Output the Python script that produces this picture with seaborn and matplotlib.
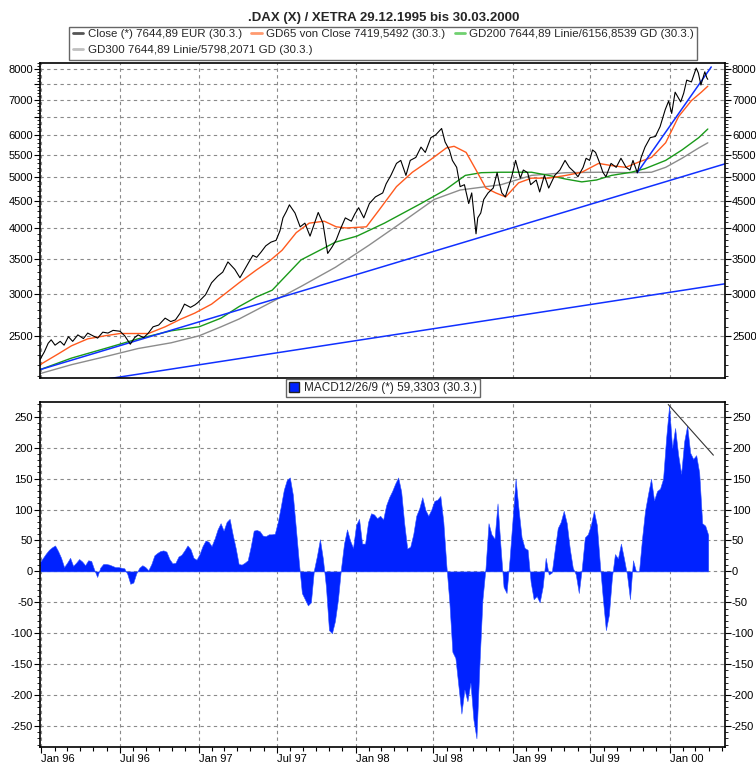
import numpy as np
import pandas as pd
import seaborn as sns
import matplotlib.pyplot as plt
import matplotlib.dates as mdates
from matplotlib.ticker import FixedLocator, FuncFormatter
from matplotlib.lines import Line2D
from matplotlib.patches import Rectangle, Patch

#%% data
close_dates = [
    '1995-12-29', '1996-01-08', '1996-01-17', '1996-01-24', '1996-02-02', '1996-02-14', '1996-02-23',
    '1996-03-04', '1996-03-14', '1996-03-26', '1996-04-08', '1996-04-18', '1996-04-30', '1996-05-11',
    '1996-05-23', '1996-06-04', '1996-06-16', '1996-07-02', '1996-07-13', '1996-07-20', '1996-07-26',
    '1996-08-05', '1996-08-13', '1996-08-26', '1996-09-06', '1996-09-17', '1996-09-30', '1996-10-15',
    '1996-10-28', '1996-11-08', '1996-11-19', '1996-11-29', '1996-12-13', '1996-12-23', '1996-12-30',
    '1997-01-17', '1997-01-31', '1997-02-14', '1997-02-26', '1997-03-10', '1997-03-26', '1997-04-07',
    '1997-04-18', '1997-04-28', '1997-05-07', '1997-05-16', '1997-05-26', '1997-06-06', '1997-06-18',
    '1997-06-30', '1997-07-09', '1997-07-16', '1997-07-24', '1997-07-31', '1997-08-13', '1997-08-25',
    '1997-09-05', '1997-09-17', '1997-10-06', '1997-10-17', '1997-10-28', '1997-11-07', '1997-11-17',
    '1997-11-26', '1997-12-08', '1997-12-22', '1997-12-30', '1998-01-08', '1998-01-20', '1998-02-02',
    '1998-02-16', '1998-03-05', '1998-03-13', '1998-03-24', '1998-04-06', '1998-04-16', '1998-04-28',
    '1998-05-08', '1998-05-21', '1998-06-02', '1998-06-12', '1998-06-25', '1998-07-06', '1998-07-20',
    '1998-07-28', '1998-08-07', '1998-08-14', '1998-08-24', '1998-09-01', '1998-09-11', '1998-09-21',
    '1998-09-28', '1998-10-08', '1998-10-12', '1998-10-19', '1998-10-26', '1998-11-05', '1998-11-17',
    '1998-11-26', '1998-12-01', '1998-12-07', '1998-12-15', '1998-12-30', '1999-01-08', '1999-01-19',
    '1999-01-26', '1999-02-05', '1999-02-12', '1999-02-25', '1999-03-05', '1999-03-16', '1999-03-26',
    '1999-04-09', '1999-04-21', '1999-05-03', '1999-05-13', '1999-05-25', '1999-06-02', '1999-06-14',
    '1999-06-21', '1999-06-29', '1999-07-06', '1999-07-13', '1999-07-23', '1999-07-30', '1999-08-06',
    '1999-08-18', '1999-08-30', '1999-09-10', '1999-09-22', '1999-10-01', '1999-10-08', '1999-10-18',
    '1999-10-27', '1999-11-05', '1999-11-17', '1999-11-29', '1999-12-10', '1999-12-22', '1999-12-30',
    '2000-01-06', '2000-01-14', '2000-01-27', '2000-02-03', '2000-02-10', '2000-02-21', '2000-03-03',
    '2000-03-08', '2000-03-14', '2000-03-23', '2000-03-28', '2000-03-30']
close_vals = [
    2254, 2330, 2420, 2457, 2400, 2440, 2400,
    2490, 2440, 2510, 2470, 2530, 2500, 2475,
    2540, 2530, 2560, 2550, 2500, 2450, 2410,
    2480, 2510, 2480, 2530, 2600, 2620, 2700,
    2660, 2680, 2760, 2870, 2830, 2860, 2889,
    2990, 3150, 3240, 3300, 3450, 3340, 3220,
    3340, 3450, 3550, 3520, 3600, 3700, 3760,
    3790, 3950, 4180, 4300, 4425, 4270, 4020,
    4085, 3860, 4280, 4085, 3580, 3680, 3800,
    3970, 4180, 4120, 4250, 4370, 4180, 4450,
    4580, 4660, 4850, 5030, 5300, 5370, 5030,
    5370, 5440, 5690, 5560, 5930, 6000, 6171,
    5820, 5620, 5370, 5210, 4790, 4830, 4450,
    4660, 3900, 4180, 4270, 4530, 4660, 4760,
    5090, 4870, 4660, 4580, 5002, 5370, 4970,
    5150, 5090, 4830, 4930, 4680, 5030, 4760,
    5030, 5150, 5370, 5210, 5100, 5000, 5210,
    5420, 5370, 5620, 5560, 5300, 5100, 5000,
    5300, 5210, 5420, 5210, 5150, 5370, 5090,
    5440, 5690, 5930, 5960, 6220, 6700, 6958,
    6590, 7230, 6930, 7200, 7620, 7560, 8030,
    7860, 7460, 7900, 7690, 7645]

gd65_dates = [
    '1995-12-29', '1996-02-10', '1996-03-11', '1996-04-18', '1996-05-28', '1996-07-02', '1996-09-06',
    '1996-10-15', '1996-11-21', '1996-12-23', '1997-01-31', '1997-03-05', '1997-04-05', '1997-05-15',
    '1997-06-14', '1997-07-14', '1997-08-16', '1997-09-15', '1997-10-20', '1997-11-17', '1997-12-10',
    '1998-01-26', '1998-02-25', '1998-04-06', '1998-05-13', '1998-06-22', '1998-07-31', '1998-08-18',
    '1998-09-15', '1998-10-08', '1998-10-31', '1998-11-23', '1998-12-16', '1999-01-15', '1999-02-14',
    '1999-03-26', '1999-05-05', '1999-06-11', '1999-07-20', '1999-08-19', '1999-09-21', '1999-10-21',
    '1999-11-20', '1999-12-23', '2000-01-22', '2000-02-21', '2000-03-15', '2000-03-30']
gd65_vals = [
    2204, 2312, 2393, 2467, 2500, 2525, 2525,
    2600, 2690, 2760, 2870, 3010, 3150, 3330,
    3460, 3630, 3920, 4085, 4120, 4020, 4000,
    4020, 4330, 4790, 5100, 5370, 5670, 5710,
    5560, 5150, 4760, 4660, 4580, 4870, 4970,
    4970, 5030, 5100, 5300, 5250, 5210, 5330,
    5440, 5800, 6500, 6970, 7230, 7420]

gd200_dates = [
    '1995-12-29', '1996-03-11', '1996-05-28', '1996-08-13', '1996-10-29', '1997-01-02', '1997-02-22',
    '1997-04-05', '1997-05-15', '1997-06-21', '1997-08-27', '1997-11-15', '1998-01-04', '1998-03-09',
    '1998-06-02', '1998-07-28', '1998-09-13', '1998-10-20', '1998-12-05', '1999-02-14', '1999-03-26',
    '1999-05-05', '1999-06-11', '1999-07-15', '1999-08-19', '1999-10-04', '1999-11-05', '1999-12-23',
    '2000-01-30', '2000-03-09', '2000-03-30']
gd200_vals = [
    2157, 2268, 2365, 2467, 2555, 2600, 2700,
    2840, 2960, 3050, 3480, 3760, 3860, 4085,
    4450, 4720, 5030, 5090, 5100, 5100, 5030,
    4950, 4890, 4930, 5030, 5100, 5180, 5370,
    5620, 5930, 6157]

gd300_dates = [
    '1995-12-29', '1996-03-11', '1996-05-28', '1996-08-13', '1996-10-29', '1997-01-02', '1997-02-22',
    '1997-04-05', '1997-06-21', '1997-08-27', '1997-11-15', '1998-02-01', '1998-04-16', '1998-07-03',
    '1998-09-01', '1998-10-06', '1998-12-05', '1999-02-14', '1999-05-05', '1999-07-20', '1999-10-04',
    '1999-11-20', '1999-12-23', '2000-01-30', '2000-03-09', '2000-03-30']
gd300_vals = [
    2120, 2204, 2282, 2365, 2425, 2500, 2600,
    2690, 2900, 3100, 3370, 3710, 4085, 4530,
    4720, 4760, 4830, 5030, 5090, 5100, 5090,
    5100, 5210, 5420, 5670, 5798]

# trend lines (start / end)
trend_a_dates = ['1995-12-29', '2000-05-09']
trend_a_vals = [2157, 5290]
trend_b_dates = ['1995-12-29', '2000-05-09']
trend_b_vals = [1980, 3136]
trend_c_dates = ['1999-10-18', '2000-04-07']
trend_c_vals = [5090, 8070]

# MACD, weekly from 29.12.1995
macd_start = '1995-12-29'
macd_vals = [
    15, 22, 29, 35, 39, 42, 33, 22, 7, 14,
    22, 9, 14, 20, 16, 10, 18, 17, 3, -9,
    6, 12, 12, 11, 9, 7, 7, 6, 5, -4,
    -20, -18, -3, 6, 10, 7, 2, 12, 26, 30,
    33, 34, 32, 20, 13, 14, 24, 27, 34, 42,
    36, 22, 19, 28, 41, 50, 48, 41, 53, 68,
    78, 66, 80, 85, 60, 38, 12, 11, 14, 18,
    40, 66, 67, 65, 58, 57, 60, 60, 61, 80,
    105, 132, 148, 152, 124, 70, 15, -35, -45, -55,
    -50, 2, 25, 52, 20, -25, -95, -100, -80, -45,
    5, 45, 68, 50, 38, 75, 85, 45, 45, 80,
    94, 92, 86, 90, 84, 107, 120, 130, 142, 152,
    129, 78, 37, 40, 60, 90, 102, 120, 100, 90,
    100, 114, 116, 122, 80, 10, -50, -130, -140, -185,
    -230, -191, -210, -180, -240, -270, -150, -45, 5, 78,
    60, 53, 110, 40, -25, -35, 20, 85, 150, 100,
    55, 38, 35, -17, -45, -40, -50, -25, 22, -5,
    -2, 35, 70, 80, 98, 78, 37, 6, -5, -35,
    5, 55, 60, 75, 98, 75, 12, -45, -95, -70,
    -10, 28, 21, 45, 21, -5, -45, 18, 0, 0,
    53, 98, 125, 150, 115, 130, 134, 150, 215, 268,
    200, 232, 189, 158, 210, 236, 192, 182, 188, 160,
    78, 74, 59]
macd_trend_dates = ['1999-12-29', '2000-04-12']
macd_trend_vals = [270, 188]

labels_top = ['Close (*) 7644,89 EUR (30.3.)',
              'GD65 von Close 7419,5492 (30.3.)',
              'GD200 7644,89 Linie/6156,8539 GD (30.3.)',
              'GD300 7644,89 Linie/5798,2071 GD (30.3.)']
label_macd = 'MACD12/26/9 (*) 59,3303 (30.3.)'
title = '.DAX (X) / XETRA 29.12.1995 bis 30.03.2000'

#%% frames
def frame(dates, vals):
    return pd.DataFrame({'Datum': pd.to_datetime(dates), 'Wert': vals})

close_df = frame(close_dates, close_vals)
gd65_df = frame(gd65_dates, gd65_vals)
gd200_df = frame(gd200_dates, gd200_vals)
gd300_df = frame(gd300_dates, gd300_vals)
macd_df = pd.DataFrame({'Datum': pd.date_range(macd_start, periods=len(macd_vals), freq='7D'),
                        'Wert': macd_vals})

#%% plot
sns.set_theme(style='white')
plt.rcParams['font.family'] = ['Liberation Sans', 'DejaVu Sans']
plt.rcParams['font.size'] = 8

W, H = 756, 763
fig = plt.figure(figsize=(W / 100, H / 100), dpi=100)
ax1 = fig.add_axes([40 / W, 1 - 378 / H, 685 / W, 315 / H])
ax2 = fig.add_axes([40 / W, 1 - 747 / H, 685 / W, 345 / H])

c_close, c65, c200, c300, c_tr = '#000000', '#ff5a1e', '#1a9a1a', '#8c8c8c', '#1030ff'
ax1.set_yscale('log')
for df, c in [(gd300_df, c300), (gd200_df, c200), (gd65_df, c65)]:
    sns.lineplot(data=df, x='Datum', y='Wert', ax=ax1, color=c, linewidth=1.0)
for d, v in [(trend_a_dates, trend_a_vals), (trend_b_dates, trend_b_vals), (trend_c_dates, trend_c_vals)]:
    sns.lineplot(data=frame(d, v), x='Datum', y='Wert', ax=ax1, color=c_tr, linewidth=1.1)
sns.lineplot(data=close_df, x='Datum', y='Wert', ax=ax1, color=c_close, linewidth=0.8)

ax2.fill_between(macd_df['Datum'], 0, macd_df['Wert'], color='#0022ff', linewidth=0.4,
                 edgecolor='#3355ff', interpolate=True)
sns.lineplot(data=frame(macd_trend_dates, macd_trend_vals), x='Datum', y='Wert', ax=ax2,
             color='#333333', linewidth=0.8)

xmin, xmax = pd.Timestamp('1995-12-29'), pd.Timestamp('2000-05-09')
for ax in (ax1, ax2):
    ax.set_xlim(xmin, xmax)
    ax.set_xlabel('')
    ax.set_ylabel('')
    ax.xaxis.set_major_locator(mdates.MonthLocator(bymonth=[1, 7]))
    ax.xaxis.set_minor_locator(mdates.MonthLocator())
    ax.grid(True, which='major', color='#8a8a8a', linestyle=(0, (3, 3)), linewidth=0.8)
    ax.tick_params(axis='y', which='both', direction='out', left=True, right=True,
                   labelleft=True, labelright=True, colors='black', labelsize=8, pad=1)
    ax.tick_params(axis='y', which='major', length=4, width=0.8)
    ax.tick_params(axis='y', which='minor', length=2, width=0.6)
    for s in ax.spines.values():
        s.set_color('black')
        s.set_linewidth(1.2)

# top panel axes
ax1.set_ylim(2080, 8210)
ax1.yaxis.set_major_locator(FixedLocator(list(range(2500, 8001, 500))))
ax1.yaxis.set_major_formatter(FuncFormatter(lambda v, p: '' if int(round(v)) in (6500, 7500) else f'{int(round(v))}'))
ax1.yaxis.set_minor_locator(FixedLocator(list(range(2100, 8201, 100))))
ax1.yaxis.set_minor_formatter(FuncFormatter(lambda v, p: ''))
ax1.tick_params(axis='x', which='both', bottom=False, labelbottom=False)

# bottom panel axes
ax2.set_ylim(-284, 274)
ax2.yaxis.set_major_locator(FixedLocator(list(range(-250, 251, 50))))
ax2.yaxis.set_minor_locator(FixedLocator(list(range(-280, 271, 10))))
ax2.yaxis.set_major_formatter(FuncFormatter(lambda v, p: f'{int(round(v))}'))
ax2.xaxis.set_major_formatter(mdates.DateFormatter('%b %y'))
ax2.tick_params(axis='x', which='both', direction='out', bottom=True, colors='black', labelsize=8, pad=1)
ax2.tick_params(axis='x', which='major', length=4, width=0.8)
ax2.tick_params(axis='x', which='minor', length=3, width=0.8)
for lab in ax2.get_xticklabels():
    lab.set_horizontalalignment('left')

# title and legends
fig.text(384 / W, 1 - 18 / H, title, ha='center', va='center', fontsize=9.5, fontweight='bold',
         family=['Liberation Sans Narrow', 'Liberation Sans', 'DejaVu Sans'])

fig.patches.append(Rectangle((69 / W, 1 - 60 / H), 628 / W, 33 / H, transform=fig.transFigure,
                             fill=False, edgecolor='#666666', linewidth=1.0))
hand = [Line2D([], [], color='#555555', lw=2),
        Line2D([], [], color='#ff9a70', lw=2),
        Line2D([], [], color='#70d070', lw=2),
        Line2D([], [], color='#c0c0c0', lw=2)]
leg_kw = dict(loc='upper left', frameon=False, handlelength=0.9, handletextpad=0.4,
              columnspacing=0.8, fontsize=8.25, borderaxespad=0, borderpad=0.1)
fig.legend(hand[:3], labels_top[:3], ncol=3, bbox_to_anchor=(72 / W, 1 - 28 / H), **leg_kw)
fig.legend(hand[3:], labels_top[3:], ncol=1, bbox_to_anchor=(72 / W, 1 - 44 / H), **leg_kw)

ax2.legend([Patch(facecolor='#0022ff', edgecolor='#222222')], [label_macd], loc='center',
           bbox_to_anchor=(383 / W, 1 - 388 / H), bbox_transform=fig.transFigure,
           frameon=True, fancybox=False, edgecolor='#666666', framealpha=1,
           handlelength=0.9, handleheight=0.9, handletextpad=0.4, borderpad=0.25, fontsize=8.5)

fig.savefig('out.png', dpi=100)
